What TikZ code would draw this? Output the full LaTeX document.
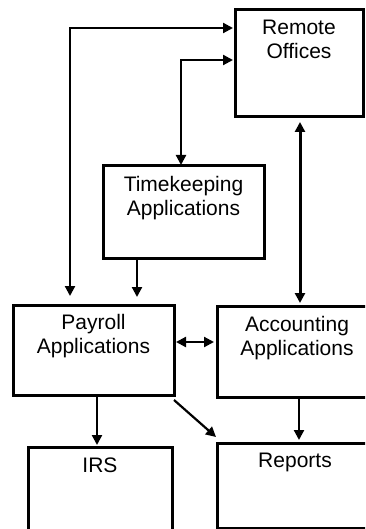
\documentclass[tikz,border=0pt]{standalone}
\usepackage{fontspec}
\setmainfont{Liberation Sans}
\usetikzlibrary{arrows.meta}
\begin{document}
\begin{tikzpicture}[x=1pt,y=-1pt,
  box/.style={draw, line width=3pt, inner sep=0pt, outer sep=0pt, anchor=north west},
  lbl/.style={font=\fontsize{21}{24}\selectfont, align=center, inner sep=0pt, anchor=base},
  arr/.style={line width=2.2pt},
  >={Triangle[length=10pt,width=10pt]}]
\useasboundingbox (0,0) rectangle (365,529);
\clip (0,0) rectangle (365,529);
\fill[white] (0,0) rectangle (365,529);
% boxes
\node[box, minimum width=128pt, minimum height=107pt] (remote) at (235,10) {};
\node[box, minimum width=161pt, minimum height=92pt] (time) at (103,166) {};
\node[box, minimum width=161pt, minimum height=90pt] (payroll) at (13,305) {};
\node[box, minimum width=160pt, minimum height=91pt] (acct) at (217,306) {};
\node[box, minimum width=144pt, minimum height=100pt] (irs) at (28,447) {};
\node[box, minimum width=156pt, minimum height=85pt] (reports) at (217,443) {};
% labels (base anchor = baseline of last line)
\node[lbl] (tremote) at ([yshift=-49pt]remote.north) {Remote\\Offices};
\node[lbl] (ttime) at ([yshift=-49pt]time.north) {Timekeeping\\Applications};
\node[lbl] (tpay) at ([yshift=-48pt]payroll.north) {Payroll\\Applications};
\node[lbl] (tacct) at ([yshift=-49pt]acct.north) {Accounting\\Applications};
\node[lbl] (tirs) at ([yshift=-25pt]irs.north) {IRS};
\node[lbl] (trep) at ([yshift=-24pt]reports.north) {Reports};
% connectors
\coordinate (c1) at (70,28);
\coordinate (c2) at (181,60);
\draw[arr,<->,shorten <=9pt,shorten >=2pt] (c1 |- payroll.north) -- (c1) -- (c1 -| remote.west);
\draw[arr,<->,shorten <=1pt,shorten >=2pt] (c2 |- time.north) -- (c2) -- (c2 -| remote.west);
\coordinate (c3) at (300,0);
\draw[line width=3pt,<->,shorten <=5pt,shorten >=3pt] (c3 |- remote.south) -- (c3 |- acct.north);
\coordinate (c4) at (137,0);
\draw[arr,->,shorten >=8pt] (c4 |- time.south) -- (c4 |- payroll.north);
\coordinate (c5) at (0,342);
\draw[arr,<->,shorten <=2pt,shorten >=3pt] (c5 -| payroll.east) -- (c5 -| acct.west);
\coordinate (c6) at (97,0);
\draw[arr,->,shorten >=2pt] (c6 |- payroll.south) -- (c6 |- irs.north);
\coordinate (c7) at (216,437);
\draw[arr,->] ([yshift=-5pt]payroll.south east) -- (c7);
\coordinate (c8) at (299,0);
\draw[arr,->,shorten >=3pt] (c8 |- acct.south) -- (c8 |- reports.north);
\end{tikzpicture}
\end{document}
